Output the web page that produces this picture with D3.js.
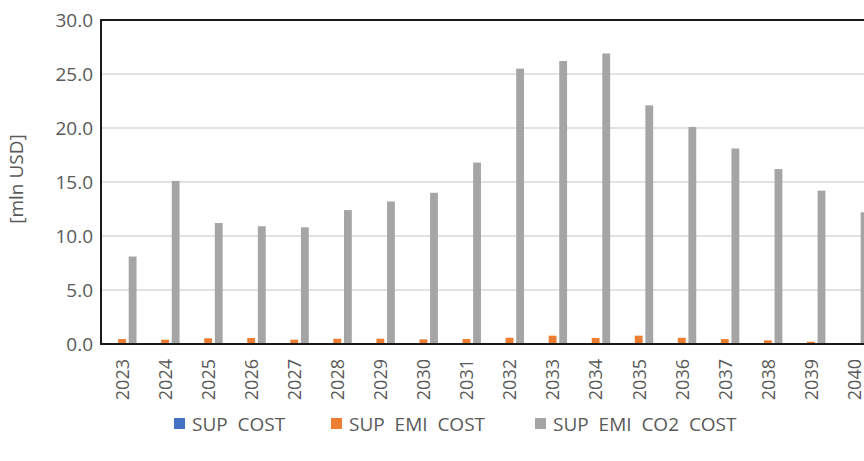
<!DOCTYPE html>
<html><head><meta charset="utf-8">
<script src="https://cdn.jsdelivr.net/npm/d3@7"></script>
<style>
html,body{margin:0;padding:0;background:#fff;overflow:hidden}
text{font-family:"Open Sans",sans-serif;fill:#595959}
</style></head>
<body><svg id="c" width="864" height="461"></svg>
<script>
const years = ["2023","2024","2025","2026","2027","2028","2029","2030","2031","2032","2033","2034","2035","2036","2037","2038","2039","2040"];
const supCost = [0,0,0,0,0,0,0,0,0,0,0,0,0,0,0,0,0,0];
const supEmiCost = [0.46,0.40,0.53,0.56,0.40,0.49,0.49,0.43,0.46,0.58,0.77,0.56,0.77,0.58,0.46,0.34,0.21,0.03];
const supEmiCo2Cost = [8.1,15.1,11.2,10.9,10.8,12.4,13.2,14.0,16.8,25.5,26.2,26.9,22.1,20.1,18.1,16.2,14.2,12.2];
const seriesNames = ["SUP  COST","SUP  EMI  COST","SUP  EMI  CO2  COST"];
const seriesColors = ["#4472C4","#ED7D31","#A5A5A5"];
const yTicks = [0,5,10,15,20,25,30];

const svg = d3.select("#c");
const L = 101, R = 876, T = 20, B = 344;
const x = d3.scaleBand().domain(years).range([L, R]).padding(0);
const y = d3.scaleLinear().domain([0, 30]).range([B, T]);
const series = [supCost, supEmiCost, supEmiCo2Cost];
const xs = d3.scaleBand().domain([0,1,2]).range([-14.5, 14.5]).paddingInner(0.26);

// gridlines
svg.append("g").selectAll("line").data(yTicks.filter(d => d > 0 && d < 30)).join("line")
  .attr("x1", L).attr("x2", 864).attr("y1", d => y(d)).attr("y2", d => y(d))
  .attr("stroke", "#d9d9d9").attr("stroke-width", 1.3);

// bars
series.forEach((vals, si) => {
  svg.append("g").selectAll("rect").data(vals).join("rect")
    .attr("x", (d, i) => x(years[i]) + x.bandwidth() / 2 - 0.5 + xs(si))
    .attr("width", xs.bandwidth())
    .attr("y", d => y(d))
    .attr("height", d => B - y(d))
    .attr("fill", seriesColors[si]);
});

// y axis
const ya = svg.append("g").attr("transform", `translate(${L},0)`)
  .call(d3.axisLeft(y).tickValues(yTicks).tickFormat(d3.format(".1f")).tickSize(0).tickPadding(8));
ya.select(".domain").remove();
ya.selectAll("text").style("font-size", "19px").attr("fill", "#595959").style("font-family", "Open Sans");

// x axis
const xa = svg.append("g").attr("transform", `translate(0,${B})`)
  .call(d3.axisBottom(x).tickSize(0).tickPadding(0));
xa.select(".domain").remove();
xa.selectAll("text")
  .style("font-size", "18px").attr("fill", "#595959").style("font-family", "Open Sans")
  .attr("transform", "rotate(-90)").attr("text-anchor", "end")
  .attr("x", -15).attr("y", 0).attr("dy", "0.35em");

// frame lines
svg.append("line").attr("x1", L).attr("x2", 864).attr("y1", T).attr("y2", T).attr("stroke", "#1a1a1a").attr("stroke-width", 2);
svg.append("line").attr("x1", L).attr("x2", L).attr("y1", T - 1).attr("y2", B + 1).attr("stroke", "#1a1a1a").attr("stroke-width", 2);
svg.append("line").attr("x1", L).attr("x2", 864).attr("y1", B).attr("y2", B).attr("stroke", "#1a1a1a").attr("stroke-width", 2);

// y title
svg.append("text").attr("transform", `translate(23,${(T + B) / 2 - 3}) rotate(-90)`)
  .attr("text-anchor", "middle").style("font-size", "19px").text("[mln USD]");

// legend
const legX = [174, 331, 535];
const lg = svg.append("g");
seriesNames.forEach((n, i) => {
  lg.append("rect").attr("x", legX[i]).attr("y", 418).attr("width", 11).attr("height", 11).attr("fill", seriesColors[i]);
  lg.append("text").attr("x", legX[i] + 18).attr("y", 424).attr("dy", "0.35em")
    .style("font-size", "19px").style("white-space", "pre").attr("xml:space", "preserve").text(n);
});
</script></body></html>
